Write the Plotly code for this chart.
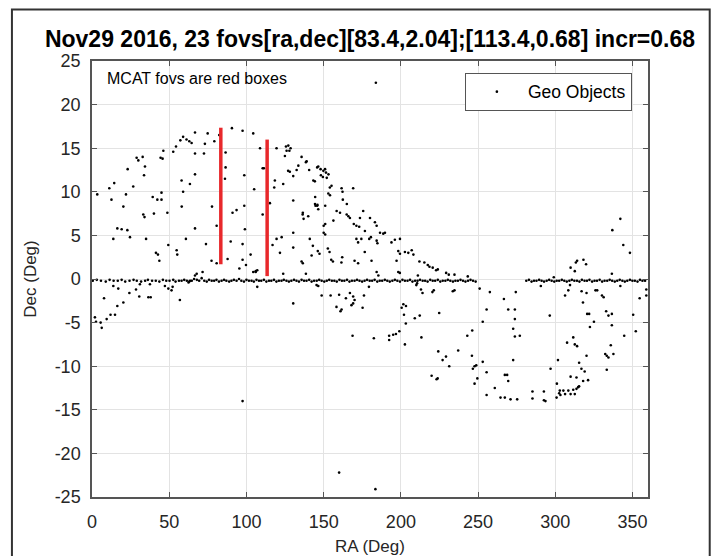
"""
Geo objects vs. MCAT fields of view (RA/Dec scatter).
"""
import plotly.graph_objects as go

TITLE = "Nov29 2016, 23 fovs[ra,dec][83.4,2.04];[113.4,0.68] incr=0.68"

# objects sitting on the equator band
equator_ra = [
    0.5, 3.1, 5.8, 8.9, 11.4, 14.0, 16.7, 19.2, 21.5, 24.3,
    26.9, 29.0, 31.8, 34.4, 36.2, 38.9, 41.3, 43.6, 45.9, 48.1,
    50.2, 52.6, 54.1, 56.3, 58.0, 59.7, 61.4, 63.0, 64.6, 66.1,
    67.9, 69.4, 71.0, 72.7, 74.3, 75.8, 77.5, 79.1, 80.6, 82.2,
    83.9, 85.5, 87.0, 88.8, 90.3, 91.9, 93.6, 95.2, 96.7, 98.4,
    100.0, 101.6, 103.3, 104.8, 106.5, 108.1, 109.6, 111.3, 112.9, 114.6,
    116.1, 117.8, 119.4, 121.0, 122.7, 124.2, 125.9, 127.5, 129.1, 130.8,
    132.4, 134.0, 135.7, 137.3, 138.9, 140.6, 142.2, 143.8, 145.5, 147.1,
    148.7, 150.4, 152.0, 153.6, 155.3, 156.9, 158.5, 160.2, 161.8, 163.4,
    165.1, 166.7, 168.3, 170.0, 171.6, 173.2, 174.9, 176.5, 178.1, 179.8,
    181.4, 183.0, 184.7, 186.3, 187.9, 189.6, 191.2, 192.8, 194.5, 196.1,
    197.7, 199.4, 201.0, 202.6, 204.3, 205.9, 207.5, 209.2, 210.8, 212.4,
    214.1, 215.7, 217.3, 219.0, 220.6, 222.2, 223.9, 225.5, 227.1, 228.8,
    230.4, 232.0, 233.7, 235.3, 236.9, 238.6, 240.2, 241.8, 243.5, 245.1,
    246.7, 248.4, 281.2, 282.9, 284.6, 286.2, 287.8, 289.5, 291.1, 292.7,
    294.4, 296.0, 297.6, 299.3, 300.9, 302.5, 304.2, 305.8, 307.4, 309.1,
    310.7, 312.3, 314.0, 315.6, 317.2, 318.9, 320.5, 322.1, 323.8, 325.4,
    327.0, 328.7, 330.3, 331.9, 333.6, 335.2, 336.8, 338.5, 340.1, 341.7,
    343.4, 345.0, 346.6, 348.3, 349.9, 351.5, 353.2, 354.8, 356.4, 358.1,
]
equator_dec = [
    -0.2, -0.1, -0.2, -0.3, -0.1, -0.2, -0.2, -0.1, -0.3, -0.2,
    -0.1, -0.2, -0.3, -0.2, -0.1, -0.2, -0.2, -0.3, -0.1, -0.2,
    -0.2, -0.1, -0.3, -0.2, -0.2, -0.1, -0.2, -0.3, -0.2, 0.0,
    -0.1, -0.2, 0.1, -0.2, -0.3, -0.1, -0.2, -0.2, -0.1, -0.3,
    -0.2, -0.1, -0.2, -0.3, -0.2, -0.1, -0.2, 0.0, -0.2, -0.3,
    -0.1, -0.2, -0.2, -0.3, -0.1, -0.2, -0.2, -0.1, -0.3, -0.2,
    -0.2, -0.1, -0.3, -0.2, -0.2, -0.1, -0.2, -0.3, -0.2, -0.1,
    -0.2, -0.3, -0.1, -0.2, -0.2, -0.1, -0.3, -0.2, -0.2, -0.1,
    -0.2, -0.3, -0.2, -0.1, -0.2, -0.2, -0.3, -0.1, -0.2, -0.2,
    -0.1, -0.3, -0.2, -0.2, -0.1, -0.2, -0.3, -0.2, -0.1, -0.2,
    -0.2, -0.1, -0.3, -0.2, -0.2, -0.1, -0.2, -0.3, -0.2, -0.1,
    -0.2, -0.3, -0.1, -0.2, -0.2, -0.1, -0.3, -0.2, -0.2, -0.1,
    -0.2, -0.2, -0.3, -0.1, -0.2, -0.2, -0.1, -0.3, -0.2, -0.2,
    -0.1, -0.2, -0.3, -0.2, -0.2, -0.1, -0.2, -0.3, -0.2, -0.1,
    -0.2, -0.3, -0.2, -0.1, -0.3, -0.2, -0.2, -0.1, -0.2, -0.3,
    -0.2, -0.1, -0.2, -0.3, -0.2, -0.2, -0.1, -0.2, -0.3, -0.2,
    -0.1, -0.2, -0.2, -0.3, -0.1, -0.2, -0.2, -0.1, -0.3, -0.2,
    -0.2, -0.1, -0.3, -0.2, -0.2, -0.1, -0.2, -0.3, -0.2, -0.1,
    -0.2, -0.3, -0.2, -0.1, -0.2, -0.2, -0.3, -0.1, -0.2, -0.2,
]

# (ra, dec) of the scattered objects, northern arc
north_pts = [
    (3.4, 9.7), (11.2, 10.4), (12.6, 9.1), (14.4, 11.0), (13.8, 4.6), (16.4, 5.8),
    (19.2, 5.7), (20.3, 8.3), (22.0, 9.7), (23.1, 12.6), (22.9, 5.6), (24.6, 4.8),
    (26.7, 10.6), (28.9, 13.9), (30.0, 13.6), (32.8, 14.0), (33.7, 11.9), (34.3, 12.9),
    (39.3, 9.4), (40.1, 7.5), (33.2, 7.4), (34.0, 7.1), (35.0, 4.6), (41.4, 3.0),
    (42.7, 2.8), (43.6, 2.1), (42.3, 9.1), (45.0, 9.1), (45.0, 9.9), (44.4, 13.9),
    (45.7, 13.8), (46.2, 14.7), (48.8, 7.6), (49.4, 3.9), (52.6, 14.6), (54.4, 15.2),
    (54.8, 3.3), (55.2, 2.8), (58.0, 11.3), (59.0, 10.0), (58.1, 8.3), (57.2, 15.9),
    (59.0, 16.3), (61.2, 16.0), (63.0, 15.8), (64.5, 15.6), (63.4, 10.9), (66.7, 16.8),
    (66.7, 14.4), (66.7, 12.0), (66.7, 5.8), (60.8, 4.6), (73.1, 15.5), (72.5, 14.4),
    (73.8, 4.0), (74.9, 16.7), (77.7, 8.3), (77.4, 2.1), (79.2, 15.8), (80.7, 6.1),
    (80.7, 1.8), (82.4, 16.5), (86.5, 14.5), (86.5, 12.8), (86.1, 11.5), (87.8, 2.3),
    (89.8, 4.3), (90.6, 17.3), (91.0, 7.6), (93.6, 7.9), (97.5, 17.0), (98.6, 8.4),
    (98.6, 11.9), (99.0, 5.7), (97.5, 4.0), (97.5, 2.2), (99.7, 1.6), (95.4, 1.2),
    (104.4, 16.7), (105.0, 10.3), (102.7, 2.8), (106.0, 0.8), (107.0, 1.0), (108.8, 15.0),
    (110.5, 12.7), (110.5, 7.4), (111.3, 12.7), (115.2, 8.7), (116.9, 3.9), (118.0, 10.5),
    (118.4, 11.3), (119.5, 15.0), (119.5, 4.6), (121.7, 3.0), (122.8, 4.8), (123.8, 10.9),
    (124.9, 14.1), (125.6, 15.2), (127.1, 15.3), (128.6, 15.0), (126.0, 14.7), (127.8, 14.7),
    (127.0, 12.4), (128.1, 12.3), (130.3, 11.8), (130.3, 5.3), (130.3, 3.6), (130.3, 9.0),
    (132.5, 12.5), (133.6, 13.0), (135.7, 14.0), (136.5, 7.6), (137.0, 6.9), (138.5, 13.4),
    (140.6, 12.5), (141.0, 4.6), (142.2, 2.7), (143.3, 11.3), (144.4, 8.6), (146.0, 8.5),
    (146.5, 8.0), (145.8, 12.8), (135.7, 2.0), (136.5, 1.8),
    (183.8, 22.5), (139.0, 13.5), (146.5, 12.9), (148.0, 12.6), (149.8, 12.4), (150.9, 12.6),
    (151.5, 12.2), (148.2, 11.9), (149.5, 11.7), (152.0, 11.6), (153.1, 12.0), (144.3, 11.2),
    (144.5, 9.4), (155.1, 10.7), (154.0, 10.5), (153.0, 9.8), (154.1, 9.6), (151.0, 8.4),
    (144.7, 8.4), (145.8, 8.4), (161.6, 10.4), (169.1, 10.4), (162.2, 10.0), (162.4, 9.1),
    (165.0, 8.6), (136.4, 7.4), (140.0, 7.2), (150.0, 6.1), (151.0, 6.3), (150.0, 5.3),
    (151.0, 5.1), (156.3, 6.7), (158.4, 7.8), (160.6, 7.6), (164.9, 7.4), (166.0, 7.2),
    (167.0, 7.0), (173.5, 7.0), (175.6, 7.8), (180.0, 7.0), (169.5, 6.3), (171.2, 6.1),
    (173.0, 6.0), (176.7, 5.5), (183.2, 6.5), (184.3, 6.1), (186.5, 5.3), (189.7, 5.3),
    (188.6, 5.2), (184.3, 4.4), (184.8, 4.1), (179.5, 4.6), (180.6, 4.8), (171.2, 4.6),
    (172.3, 4.2), (174.4, 4.6), (193.9, 4.2), (196.1, 4.5), (199.4, 4.6), (143.0, 3.8),
    (146.2, 3.2), (147.3, 2.9), (152.7, 3.5), (153.8, 3.1), (154.9, 2.2), (156.0, 2.0),
    (162.0, 2.5), (161.5, 1.9), (170.0, 2.1), (172.3, 1.8), (176.6, 3.1), (181.0, 2.1),
    (184.3, 0.8), (185.4, 0.4), (198.3, 3.2), (199.4, 2.9), (202.6, 3.1), (204.8, 3.0),
    (207.0, 3.3), (208.1, 2.8), (197.2, 2.1), (212.0, 2.0), (215.2, 1.9), (217.4, 1.6),
    (218.5, 1.4), (220.6, 1.3), (222.8, 1.0), (223.9, 1.1), (229.3, 0.7), (231.0, 0.5),
    (234.7, 0.5), (243.3, 0.3), (211.0, 0.4), (198.3, 0.8),
]

# (ra, dec) of the scattered objects, southern arc and stragglers
south_pts = [
    (1.9, -4.4), (2.6, -4.9), (5.6, -5.0), (6.3, -5.6), (7.8, -2.2), (9.5, -4.6),
    (12.0, -4.1), (14.9, -4.1), (13.8, -0.8), (17.0, -1.1), (16.4, -3.1), (20.3, -2.7),
    (24.2, -1.6), (28.5, -1.2), (30.6, -2.0), (31.0, -0.6), (36.5, -2.1), (38.0, -2.1),
    (37.5, -0.6), (47.2, -0.8), (49.4, -1.1), (51.5, -1.3), (52.2, -0.9), (56.9, -2.4),
    (62.5, -0.4), (63.5, -0.2), (66.7, 0.4), (67.8, 0.6), (71.6, 0.8), (97.5, -14.0),
    (104.4, 0.8), (106.0, 0.9), (107.0, -0.9), (123.8, 0.6), (130.3, -2.8), (138.5, 0.6),
    (145.4, -0.7), (160.0, -22.2), (183.5, -24.1),
    (146.5, -0.8), (148.7, -1.9), (154.5, -1.9), (160.0, -1.8), (158.3, -3.2), (161.6, -3.5),
    (160.9, -3.7), (164.4, -2.2), (167.0, -1.6), (169.1, -2.0), (170.0, -2.4), (168.0, -3.0),
    (169.1, -2.8), (175.2, -3.3), (176.1, -1.9), (168.7, -6.5), (182.5, -6.8), (179.3, -0.9),
    (192.4, -6.5), (192.4, -7.0), (195.0, -6.4), (196.8, -6.3), (199.0, -6.0), (200.5, -3.3),
    (201.6, -2.9), (203.3, -3.1), (202.0, -4.1), (203.2, -5.1), (202.6, -7.5), (199.3, 0.7),
    (209.0, -4.5), (212.2, -4.2), (210.5, -0.5), (210.0, -0.7), (213.3, -6.7), (213.0, -1.2),
    (214.0, -1.6), (220.4, -1.5), (221.3, -1.3), (224.8, -3.9), (219.9, -11.1), (223.1, -11.5),
    (223.8, -11.4), (224.2, -8.3), (227.0, -9.3), (229.2, -8.9), (231.3, -10.0), (233.6, -1.4),
    (234.7, -1.3), (237.1, -8.2), (243.0, -6.5), (246.2, -5.9), (246.0, -8.8), (246.6, -10.3),
    (247.7, -10.0), (248.8, -9.9), (249.5, -11.4), (247.7, -12.0),
    (251.0, -1.1), (257.6, -1.5), (255.5, -3.5), (253.0, -4.9), (266.7, -2.3), (269.5, -3.5),
    (273.8, -3.5), (274.4, -1.5), (273.8, -4.6), (272.7, -5.7), (273.8, -6.6), (277.0, -6.5),
    (253.0, -9.5), (255.5, -10.7), (272.7, -9.3), (267.3, -11.0), (268.8, -11.0), (269.5, -11.7),
    (260.8, -12.5), (255.5, -13.3), (264.5, -13.6), (267.3, -13.6), (271.0, -13.8), (275.3, -13.8),
    (285.2, -12.9), (285.2, -13.7), (292.6, -12.9), (292.6, -13.9), (293.6, -14.0), (290.6, -0.8),
    (296.4, -4.2), (296.9, -10.3), (299.0, 0.2), (300.8, -13.6), (302.5, -13.1), (302.9, -12.8),
    (303.3, -13.3), (305.2, -12.8), (306.3, -13.2), (308.4, -12.8), (309.9, -13.2), (311.6, -12.7),
    (312.6, -13.2), (313.7, -12.6), (314.8, -12.4), (315.4, -12.3), (301.0, -12.0), (301.7, -9.3),
    (306.3, -1.9), (308.4, -1.3), (309.5, -0.7), (309.9, 1.3), (313.3, 1.9), (314.1, 2.1),
    (312.6, 0.9), (318.2, 2.2), (319.9, 1.7), (313.7, -11.3), (309.9, -11.2), (315.4, -9.6),
    (316.9, -10.3), (319.0, -10.6), (321.2, -11.6), (318.0, -11.7), (307.6, -7.3), (311.6, -6.7),
    (312.6, -7.5), (314.1, -7.7), (317.0, -1.4), (320.2, -1.6), (320.6, -4.0), (321.9, -4.0),
    (317.9, -2.7), (322.4, -5.5), (325.0, -4.9), (320.2, -8.8), (326.0, -1.3), (327.1, -1.3),
    (330.2, -1.9), (331.3, -2.1), (332.9, -3.7), (334.4, -4.2), (336.6, -4.0), (336.6, -5.3),
    (335.9, -7.6), (332.3, -8.6), (333.3, -8.8), (334.4, -9.0), (337.6, -8.6), (333.3, -10.4),
    (336.6, 0.6), (342.1, 6.9), (336.9, 5.6), (344.0, 3.9), (348.3, 3.0), (342.1, -0.8),
    (344.6, -6.5), (350.4, -4.1), (352.1, -6.0), (354.6, -2.2), (358.9, -1.9), (358.9, -1.2),
]

# MCAT fov columns: ra and dec extent covered by the stacked boxes
fov_ra = [83.4, 113.4]
fov_dec_lo = [1.69, 0.33]
fov_dec_hi = [17.35, 15.99]

# tick labels (plain hyphen for negatives, like the original)
x_ticks = [0, 50, 100, 150, 200, 250, 300, 350]
y_ticks = [-25, -20, -15, -10, -5, 0, 5, 10, 15, 20, 25]
y_tick_text = ["-25", "-20", "-15", "-10", "-5", "0", "5", "10", "15", "20", "25"]

FONT = "Liberation Sans, Arial, sans-serif"
AXIS_COLOR = "#555555"
GRID_COLOR = "#e3e3e3"

geo_ra = equator_ra + [p[0] for p in north_pts] + [p[0] for p in south_pts]
geo_dec = equator_dec + [p[1] for p in north_pts] + [p[1] for p in south_pts]

fig = go.Figure()

fig.add_trace(
    go.Scatter(
        x=geo_ra,
        y=geo_dec,
        mode="markers",
        name="Geo Objects",
        marker=dict(color="black", size=2.6, symbol="circle"),
    )
)

# red fov boxes, drawn as thick vertical strokes
for ra, lo, hi in zip(fov_ra, fov_dec_lo, fov_dec_hi):
    fig.add_trace(
        go.Scatter(
            x=[ra, ra],
            y=[lo, hi],
            mode="lines",
            line=dict(color="#e8282b", width=3.5),
            showlegend=False,
            hoverinfo="skip",
        )
    )

fig.update_layout(
    width=717,
    height=556,
    margin=dict(l=92, r=69, t=61, b=59),
    paper_bgcolor="white",
    plot_bgcolor="white",
    font=dict(family=FONT, color="#262626", size=16),
    title=dict(
        text="<b>" + TITLE + "</b>",
        x=0.5,
        xanchor="center",
        xref="paper",
        y=0.93,
        yanchor="middle",
        font=dict(size=23, color="black"),
    ),
    showlegend=True,
    legend=dict(
        x=0.971,
        xanchor="right",
        y=0.973,
        yanchor="top",
        bgcolor="white",
        bordercolor=AXIS_COLOR,
        borderwidth=1,
        font=dict(size=17.5, color="black"),
        itemwidth=52,
    ),
    annotations=[
        dict(
            text="MCAT fovs are red boxes",
            x=0.024,
            y=0.961,
            xref="paper",
            yref="paper",
            xanchor="left",
            yanchor="middle",
            showarrow=False,
            font=dict(size=16, color="black"),
        )
    ],
    shapes=[
        # outer frame around the whole figure
        dict(
            type="rect",
            xref="paper",
            yref="paper",
            x0=-0.144,
            x1=1.111,
            y0=-0.3,
            y1=1.118,
            line=dict(color="#333333", width=2),
            layer="below",
        )
    ],
)

fig.update_xaxes(
    range=[0, 360],
    tickvals=x_ticks,
    title=dict(text="RA (Deg)", font=dict(size=17), standoff=10),
    automargin=False,
    showgrid=True,
    gridcolor=GRID_COLOR,
    zeroline=False,
    showline=True,
    linecolor=AXIS_COLOR,
    linewidth=1.5,
    mirror="ticks",
    ticks="inside",
    ticklen=5,
    tickcolor=AXIS_COLOR,
    tickfont=dict(size=18),
    ticklabelstandoff=8,
)

fig.update_yaxes(
    range=[-25, 25],
    tickvals=y_ticks,
    ticktext=y_tick_text,
    title=dict(text="Dec (Deg)", font=dict(size=17), standoff=14),
    automargin=False,
    showgrid=True,
    gridcolor=GRID_COLOR,
    zeroline=False,
    showline=True,
    linecolor=AXIS_COLOR,
    linewidth=1.5,
    mirror="ticks",
    ticks="inside",
    ticklen=5,
    tickcolor=AXIS_COLOR,
    tickfont=dict(size=18),
    ticklabelstandoff=6,
)

# drop the page's default body margin so the figure fills the window exactly
fig.write_html(
    "out.html",
    config={"displayModeBar": False},
    post_script="document.body.style.margin = '0';",
)
